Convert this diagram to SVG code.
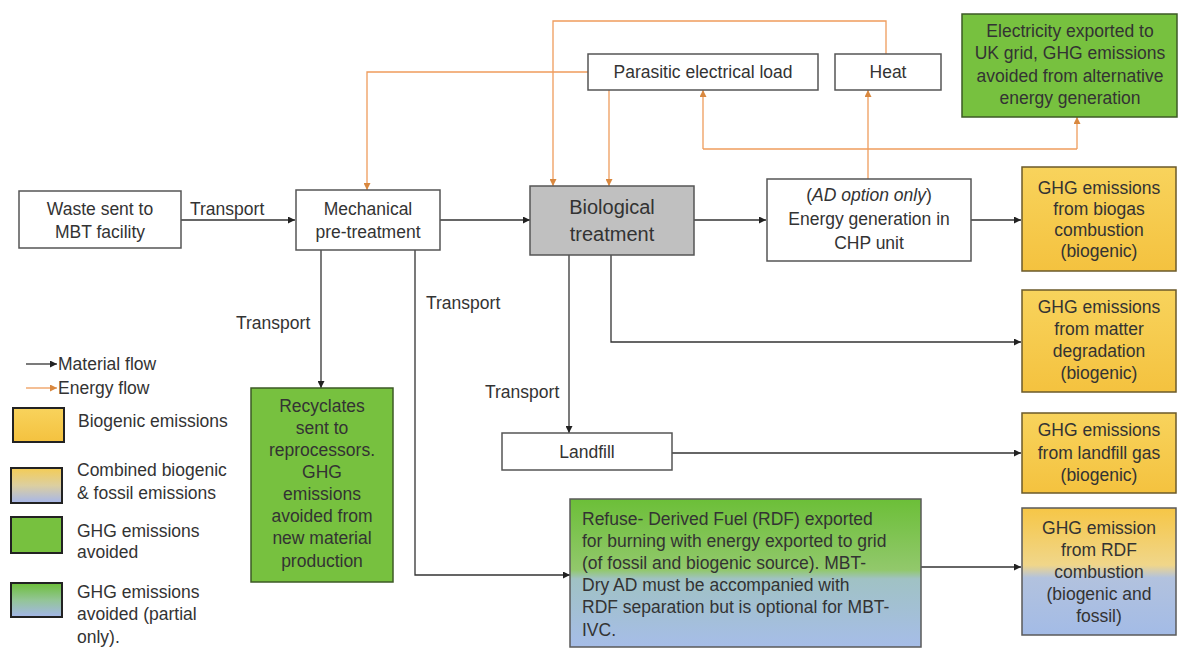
<svg xmlns="http://www.w3.org/2000/svg" width="1182" height="649" viewBox="0 0 1182 649">
<style>
text{font-family:"Liberation Sans",Arial,sans-serif;font-size:17.5px;fill:#333}
.c{text-anchor:middle}
.box{fill:#fff;stroke:#555;stroke-width:1.5}
.grn{fill:#77c13f;stroke:#3d5a26;stroke-width:1.5}
.yel{fill:url(#gy);stroke:#6b5a2a;stroke-width:1.5}
.mat{fill:none;stroke:#333;stroke-width:1.3;marker-end:url(#ab)}
.en{fill:none;stroke:#ef9c5c;stroke-width:1.3}
.ena{fill:none;stroke:#ef9c5c;stroke-width:1.3;marker-end:url(#ao)}
.sw{stroke:#222;stroke-width:2}
</style>
<defs>
<marker id="ab" viewBox="0 0 10 10" refX="10" refY="5" markerWidth="7" markerHeight="7" markerUnits="userSpaceOnUse" orient="auto"><path d="M0,0L10,5L0,10z" fill="#222"/></marker>
<marker id="ao" viewBox="0 0 10 10" refX="10" refY="5" markerWidth="7" markerHeight="7" markerUnits="userSpaceOnUse" orient="auto"><path d="M0,0L10,5L0,10z" fill="#d9883f"/></marker>
<linearGradient id="gy" x1="0" y1="0" x2="0" y2="1"><stop offset="0" stop-color="#f8d35c"/><stop offset="1" stop-color="#f4c23f"/></linearGradient>
<linearGradient id="gyb" x1="0" y1="0" x2="0" y2="1"><stop offset="0" stop-color="#f6c646"/><stop offset="0.45" stop-color="#f0d68a"/><stop offset="0.55" stop-color="#b2c2de"/><stop offset="1" stop-color="#a3bbe6"/></linearGradient>
<linearGradient id="ggb" x1="0" y1="0" x2="0" y2="1"><stop offset="0" stop-color="#6cbf38"/><stop offset="0.48" stop-color="#92c86c"/><stop offset="0.54" stop-color="#a0c2c4"/><stop offset="1" stop-color="#a6bde8"/></linearGradient>
<linearGradient id="lyb" x1="0" y1="0" x2="0" y2="1"><stop offset="0" stop-color="#f4cc55"/><stop offset="0.5" stop-color="#dccfa0"/><stop offset="1" stop-color="#a6b6ea"/></linearGradient>
<linearGradient id="lgb" x1="0" y1="0" x2="0" y2="1"><stop offset="0" stop-color="#6cbf38"/><stop offset="0.5" stop-color="#93c596"/><stop offset="1" stop-color="#a4b6ea"/></linearGradient>
</defs>

<g id="connectors">
<path class="mat" d="M181,220H295"/>
<path class="mat" d="M440,220H530"/>
<path class="mat" d="M694,220H766"/>
<path class="mat" d="M971,220H1021"/>
<path class="mat" d="M321,250V388"/>
<path class="mat" d="M415,250V575H570"/>
<path class="mat" d="M569,255V433"/>
<path class="mat" d="M611,255V342H1021"/>
<path class="mat" d="M672,453H1021"/>
<path class="mat" d="M921,567H1021"/>
<path class="ena" d="M886,54V21H553V186"/>
<path class="ena" d="M588,72H367V190"/>
<path class="ena" d="M609,90V186"/>
<path class="ena" d="M868,179V90"/>
<path class="en" d="M703,149H1077"/>
<path class="ena" d="M703,149V90"/>
<path class="ena" d="M1077,149V117"/>
<text x="190" y="215">Transport</text>
<text x="426" y="309">Transport</text>
<text x="236" y="329">Transport</text>
<text x="485" y="398">Transport</text>
</g>

<g id="waste"><rect class="box" x="19" y="191" width="162" height="57"/><text class="c" x="100" y="215">Waste sent to</text><text class="c" x="100" y="238">MBT facility</text></g>
<g id="mechanical"><rect class="box" x="296" y="190" width="144" height="60"/><text class="c" x="368" y="215">Mechanical</text><text class="c" x="368" y="238">pre-treatment</text></g>
<g id="biological"><rect x="530" y="186" width="164" height="69" fill="#c0c0c0" stroke="#555" stroke-width="1.5"/><text class="c" x="612" y="214" style="font-size:20px">Biological</text><text class="c" x="612" y="241" style="font-size:20px">treatment</text></g>
<g id="chp"><rect class="box" x="767" y="179" width="204" height="82"/><text class="c" x="869" y="201">(<tspan font-style="italic">AD option only</tspan>)</text><text class="c" x="869" y="225">Energy generation in</text><text class="c" x="869" y="249">CHP unit</text></g>
<g id="parasitic"><rect class="box" x="588" y="54" width="230" height="36"/><text class="c" x="703" y="78">Parasitic electrical load</text></g>
<g id="heat"><rect class="box" x="835" y="54" width="106" height="36"/><text class="c" x="888" y="78">Heat</text></g>
<g id="electricity"><rect class="grn" x="962" y="14" width="215" height="103"/><text class="c" x="1070" y="37">Electricity exported to</text><text class="c" x="1070" y="59">UK grid, GHG emissions</text><text class="c" x="1070" y="82">avoided from alternative</text><text class="c" x="1070" y="104">energy generation</text></g>
<g id="biogas"><rect class="yel" x="1022" y="167" width="154" height="104"/><text class="c" x="1099" y="194">GHG emissions</text><text class="c" x="1099" y="215">from biogas</text><text class="c" x="1099" y="236">combustion</text><text class="c" x="1099" y="257">(biogenic)</text></g>
<g id="degradation"><rect class="yel" x="1022" y="290" width="154" height="102"/><text class="c" x="1099" y="313">GHG emissions</text><text class="c" x="1099" y="335">from matter</text><text class="c" x="1099" y="357">degradation</text><text class="c" x="1099" y="379">(biogenic)</text></g>
<g id="landfillgas"><rect class="yel" x="1022" y="413" width="154" height="80"/><text class="c" x="1099" y="436">GHG emissions</text><text class="c" x="1099" y="459">from landfill gas</text><text class="c" x="1099" y="481">(biogenic)</text></g>
<g id="rdfcomb"><rect x="1022" y="508" width="154" height="127" fill="url(#gyb)" stroke="#5a5a5a" stroke-width="1.5"/><text class="c" x="1099" y="534">GHG emission</text><text class="c" x="1099" y="556">from RDF</text><text class="c" x="1099" y="578">combustion</text><text class="c" x="1099" y="600">(biogenic and</text><text class="c" x="1099" y="622">fossil)</text></g>
<g id="landfill"><rect class="box" x="502" y="433" width="170" height="37"/><text class="c" x="587" y="458">Landfill</text></g>
<g id="recyclates"><rect class="grn" x="251" y="388" width="142" height="194"/><text class="c" x="322" y="412">Recyclates</text><text class="c" x="322" y="434">sent to</text><text class="c" x="322" y="456">reprocessors.</text><text class="c" x="322" y="478">GHG</text><text class="c" x="322" y="500">emissions</text><text class="c" x="322" y="522">avoided from</text><text class="c" x="322" y="544">new material</text><text class="c" x="322" y="567">production</text></g>
<g id="rdf"><rect x="570" y="499" width="351" height="148" fill="url(#ggb)" stroke="#5a5a5a" stroke-width="1.5"/><text x="582" y="525">Refuse- Derived Fuel (RDF) exported</text><text x="582" y="547">for burning with energy exported to grid</text><text x="582" y="569">(of fossil and biogenic source). MBT-</text><text x="582" y="591">Dry AD must be accompanied with</text><text x="582" y="613">RDF separation but is optional for MBT-</text><text x="582" y="636">IVC.</text></g>

<g id="legend">
<path class="mat" d="M26,364H57"/><text x="58" y="370">Material flow</text>
<path class="ena" d="M26,388H57"/><text x="58" y="394">Energy flow</text>
<rect class="sw" x="13" y="408" width="51" height="34" fill="url(#gy)"/><text x="78" y="427">Biogenic emissions</text>
<rect class="sw" x="11" y="468" width="51" height="35" fill="url(#lyb)"/><text x="77" y="476">Combined biogenic</text><text x="77" y="499">&amp; fossil emissions</text>
<rect class="sw" x="11" y="517" width="51" height="36" fill="#77c13f"/><text x="77" y="537">GHG emissions</text><text x="77" y="558">avoided</text>
<rect class="sw" x="11" y="583" width="51" height="34" fill="url(#lgb)"/><text x="77" y="598">GHG emissions</text><text x="77" y="620">avoided (partial</text><text x="77" y="643">only).</text>
</g>
</svg>
